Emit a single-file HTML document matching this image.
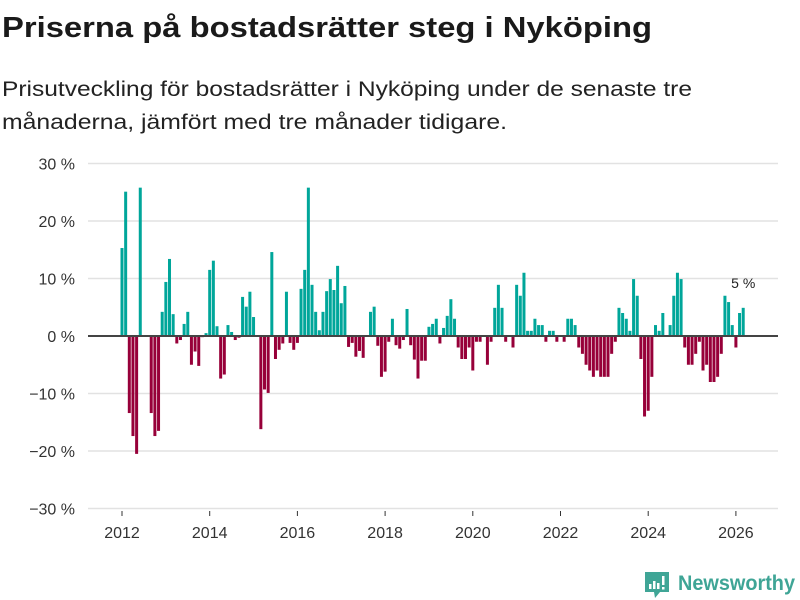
<!DOCTYPE html>
<html><head><meta charset="utf-8">
<style>
html,body{margin:0;padding:0;background:#fff;}
svg{display:block;font-family:"Liberation Sans","DejaVu Sans",sans-serif;}
</style></head>
<body>
<svg id="chart" width="800" height="600" viewBox="0 0 800 600" xmlns="http://www.w3.org/2000/svg">
  <text x="2" y="37" font-size="29" font-weight="bold" fill="#1a1a1a" textLength="650" lengthAdjust="spacingAndGlyphs">Priserna på bostadsrätter steg i Nyköping</text>
  <text x="2" y="96" font-size="21" fill="#222" textLength="690" lengthAdjust="spacingAndGlyphs">Prisutveckling för bostadsrätter i Nyköping under de senaste tre</text>
  <text x="2" y="129" font-size="21" fill="#222" textLength="505" lengthAdjust="spacingAndGlyphs">månaderna, jämfört med tre månader tidigare.</text>
  <g id="grid"></g>
  <g id="yaxis"></g>
  <g id="xaxis"></g>
  <g id="bars"></g>
  <line id="zero" x1="88" x2="778" stroke="#444" stroke-width="2"/>
  <text id="lastlabel" font-size="14" fill="#222" text-anchor="middle">5 %</text>
  <g>
    <path d="M645 572 h24 v20 h-9 l-5 6 l-1 -6 h-9 z" fill="#3fa596"/>
    <rect x="649" y="584" width="2.5" height="5" fill="#fff"/>
    <rect x="653" y="581" width="2.5" height="8" fill="#fff"/>
    <rect x="657" y="583" width="2.5" height="6" fill="#fff"/>
    <rect x="662" y="576" width="2.5" height="9" fill="#fff"/>
    <rect x="662" y="587" width="2.5" height="2.5" fill="#fff"/>
    <text x="678" y="590" font-size="21" font-weight="bold" fill="#3fa596" textLength="117" lengthAdjust="spacingAndGlyphs">Newsworthy</text>
  </g>
</svg>
<script>
const yTicks = [30, 20, 10, 0, -10, -20, -30];
const yTickLabels = ["30 %", "20 %", "10 %", "0 %", "−10 %", "−20 %", "−30 %"];
const xTicks = [2012, 2014, 2016, 2018, 2020, 2022, 2024, 2026];
const startYear = 2012;
const monthlyChange = [
15.3,25.1,-13.4,-17.4,-20.5,25.8,null,null,-13.4,-17.4,-16.5,4.2,
9.4,13.4,3.8,-1.3,-0.7,2.1,4.2,-5.0,-2.7,-5.2,-0.2,0.5,
11.5,13.1,1.7,-7.4,-6.7,1.9,0.7,-0.7,-0.3,6.8,5.1,7.7,
3.3,null,-16.2,-9.3,-9.9,14.6,-4.0,-2.4,-1.3,7.7,-1.2,-2.4,
-1.2,8.2,11.5,25.8,8.9,4.2,1.0,4.2,7.8,9.9,8.0,12.2,
5.7,8.7,-1.9,-1.2,-3.6,-2.6,-3.8,null,4.2,5.1,-1.7,-7.1,
-6.2,-1.0,3.0,-1.6,-2.2,-0.7,4.7,-1.6,-4.1,-7.4,-4.3,-4.3,
1.6,2.1,3.0,-1.3,1.4,3.5,6.4,3.0,-2.0,-4.0,-4.0,-2.0,
-6.0,-1.0,-1.0,null,-5.0,-1.0,4.9,8.9,4.9,-1.0,null,-2.0,
8.9,7.0,11.0,0.9,0.9,3.0,1.9,1.9,-1.0,0.9,0.9,-1.0,
null,-1.0,3.0,3.0,1.9,-2.0,-3.1,-5.0,-6.0,-7.1,-6.0,-7.1,
-7.1,-7.1,-3.1,-1.0,4.9,4.0,3.0,0.9,9.9,7.0,-4.0,-14.0,
-13.0,-7.1,1.9,0.9,4.0,null,1.9,7.0,11.0,9.9,-2.0,-5.0,
-5.0,-3.1,-1.0,-6.0,-5.0,-8.0,-8.0,-7.1,-3.1,7.0,5.9,1.9,
-2.0,4.0,4.9
];

const NS = "http://www.w3.org/2000/svg";
const yScale = v => 336 - v * (172.5 / 30);
const xScale = monthIndex => 122 + monthIndex * (43.85 / 12);
function mk(tag, attrs) {
  const e = document.createElementNS(NS, tag);
  for (const k in attrs) e.setAttribute(k, attrs[k]);
  return e;
}
const grid = document.getElementById("grid");
const yaxis = document.getElementById("yaxis");
yTicks.forEach((t, i) => {
  if (t !== 0) {
    const l = mk("line", {x1: 88, x2: 778, y1: yScale(t), y2: yScale(t), stroke: "#e2e2e2", "stroke-width": 1.5});
    
    
    grid.appendChild(l);
  }
  const tx = mk("text", {x: 75, y: yScale(t) + 6, "font-size": 16, fill: "#333", "text-anchor": "end"});
  tx.textContent = yTickLabels[i];
  
  
  yaxis.appendChild(tx);
});
const xaxis = document.getElementById("xaxis");
xTicks.forEach(yr => {
  const x = xScale((yr - startYear) * 12);
  const tk = mk("line", {x1: x, x2: x, y1: 511, y2: 516, stroke: "#333", "stroke-width": 1});
  
  
  xaxis.appendChild(tk);
  const tx = mk("text", {x: x, y: 538, "font-size": 16, fill: "#333", "text-anchor": "middle"});
  tx.textContent = String(yr);
  
  
  xaxis.appendChild(tx);
});
const bars = document.getElementById("bars");
monthlyChange.forEach((v, i) => {
  if (v === null) return;
  const x = xScale(i) - 1.5;
  const y0 = yScale(0), y1 = yScale(v);
  const r = mk("rect", {x: x, y: Math.min(y0, y1), width: 3, height: Math.abs(y1 - y0), fill: v >= 0 ? "#00a69a" : "#970039"});
  
  
  bars.appendChild(r);
});
const z = document.getElementById("zero");
z.setAttribute("y1", yScale(0)); z.setAttribute("y2", yScale(0));
let lastIdx = monthlyChange.length - 1;
const lastVal = monthlyChange[lastIdx];
const lab = document.getElementById("lastlabel");
lab.setAttribute("x", xScale(lastIdx));
lab.setAttribute("y", yScale(lastVal) - 20);
lab.textContent = Math.round(lastVal) + " %";
</script>
</body></html>
